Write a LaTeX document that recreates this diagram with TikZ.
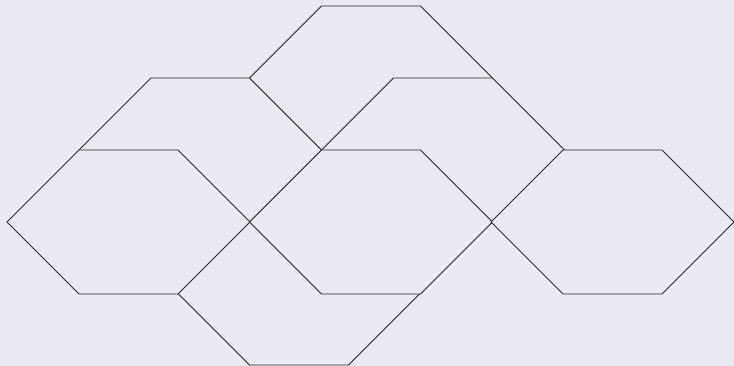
\documentclass[tikz,border=0pt]{standalone}
\usepackage{tikz}
\definecolor{paleback}{RGB}{234,234,242}
\definecolor{edgegray}{RGB}{40,40,40}
\tikzset{hexline/.style={draw=edgegray,fill=paleback,line width=0.8pt,line join=miter}}

\begin{document}
\begin{tikzpicture}[x=1pt,y=-1pt]
        \fill[paleback] (0,0) rectangle (734,366);
        \useasboundingbox (0,0) rectangle (734,366);
        % back to front, so later ones hide parts of earlier ones
        \foreach \cx/\cy in {200.5/150,371/78,443/150,299/293,128.5/222,371/222,612.5/222}{
          \draw[hexline] ({\cx-121.5},\cy) -- ++(72,-72) -- ++(99,0) -- ++(72,72)
            -- ++(-72,72) -- ++(-99,0) -- cycle;
        }
      \end{tikzpicture}
\end{document}
